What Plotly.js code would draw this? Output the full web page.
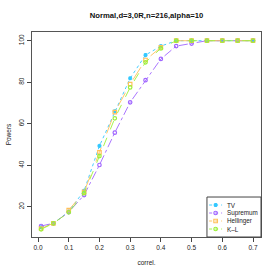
<!DOCTYPE html>
<html>
<head>
<meta charset="utf-8">
<script src="https://cdn.plot.ly/plotly-3.0.1.min.js"></script>
<style>html,body{margin:0;padding:0;background:#fff}#chart{width:278px;height:278px}</style>
</head>
<body>
<div id="chart"></div>
<script>
var correl = [0.01,0.05,0.1,0.15,0.2,0.25,0.3,0.35,0.4,0.45,0.5,0.55,0.6,0.65,0.7];
var tv        = [10.1,12.0,17.6,27.7,49.3,66.0,81.9,93.1,97.4,100,100,100,100,100,100];
var supremum  = [10.7,12.0,17.4,25.6,40.1,55.7,70.3,81.0,91.2,97.4,98.6,100,100,100,100];
var hellinger = [9.5,12.0,18.4,27.1,46.2,65.6,79.1,90.7,96.8,100,100,100,100,100,100];
var kl        = [9.1,12.0,17.3,26.5,44.4,62.6,77.5,89.6,96.3,100,100,100,100,100,100];
var seriesNames = ['TV','Supremum','Hellinger','K\u2013L'];
var xTicks = [0,0.1,0.2,0.3,0.4,0.5,0.6,0.7];
var yTicks = [20,40,60,80,100];

var colors = ['#33C8FF','#A066FF','#FFC05A','#9CF03A'];
var symbols = ['asterisk-open','circle-open','square-open','circle-open'];
var dashes = ['dot','dashdot','longdash','dash'];
var all = [tv,supremum,hellinger,kl];

var traces = all.map(function(ys,i){
  return {x:correl,y:ys,type:'scatter',mode:'lines+markers',name:seriesNames[i],
    line:{color:colors[i],width:0.9,dash:dashes[i]},
    marker:{color:colors[i],symbol:symbols[i],size:3.5,line:{color:colors[i],width:1.2}},
    showlegend:false};
});

// legend: drawn on a hidden overlay axis placed in the lower-right corner
var legY = [0.8,0.6,0.4,0.2];
var legX0 = 0.04, legX1 = 0.28, legXm = 0.16;
all.forEach(function(ys,i){
  traces.push({x:[legX0,legXm,legX1],y:[legY[i],legY[i],legY[i]],xaxis:'x2',yaxis:'y2',
    type:'scatter',mode:'lines',line:{color:colors[i],width:0.9,dash:'dot'},showlegend:false,hoverinfo:'skip'});
  traces.push({x:[legXm],y:[legY[i]],xaxis:'x2',yaxis:'y2',type:'scatter',mode:'markers',
    marker:{color:colors[i],symbol:symbols[i],size:3.5,line:{color:colors[i],width:1.2}},showlegend:false,hoverinfo:'skip'});
});

var font = {family:'Liberation Sans, Arial, sans-serif',size:6.5,color:'#222'};
var layout = {
  width:278,height:278,
  margin:{l:32,r:17,t:32,b:41,pad:0},
  paper_bgcolor:'#fff',plot_bgcolor:'#fff',
  font:font,
  title:{text:'<b>Normal,d=3,0R,n=216,alpha=10</b>',font:{family:'Liberation Sans, Arial, sans-serif',size:7.7,color:'#111'},x:0.527,xanchor:'center',y:0.946,yanchor:'middle'},
  xaxis:{range:[-0.0196,0.726],tickvals:xTicks,tickformat:'.1f',ticks:'outside',ticklen:4,tickwidth:1,tickcolor:'#444',
    showgrid:false,zeroline:false,showline:true,mirror:true,linecolor:'#555',linewidth:1,
    tickfont:font,title:{text:'correl.',font:font,standoff:10}},
  yaxis:{range:[5.4,104.2],tickvals:yTicks,ticks:'outside',ticklen:4,tickwidth:1,tickcolor:'#444',tickangle:-90,
    showgrid:false,zeroline:false,showline:true,mirror:true,linecolor:'#555',linewidth:1,
    tickfont:font,title:{text:'Powers',font:font,standoff:6}},
  xaxis2:{domain:[0.764,1],range:[0,1],visible:false,fixedrange:true,anchor:'y2'},
  yaxis2:{domain:[0,0.195],range:[0,1],visible:false,fixedrange:true,anchor:'x2'},
  shapes:[{type:'rect',xref:'paper',yref:'paper',x0:0.764,x1:1,y0:0,y1:0.195,line:{color:'#444',width:1},fillcolor:'rgba(255,255,255,0)'}],
  annotations:seriesNames.map(function(n,i){
    return {xref:'x2',yref:'y2',x:0.34,y:legY[i],text:n,showarrow:false,xanchor:'left',yanchor:'middle',
      font:{family:font.family,size:6.3,color:'#222'}};
  }),
  showlegend:false
};
Plotly.newPlot('chart',traces,layout,{staticPlot:true,displayModeBar:false});
</script>
</body>
</html>
